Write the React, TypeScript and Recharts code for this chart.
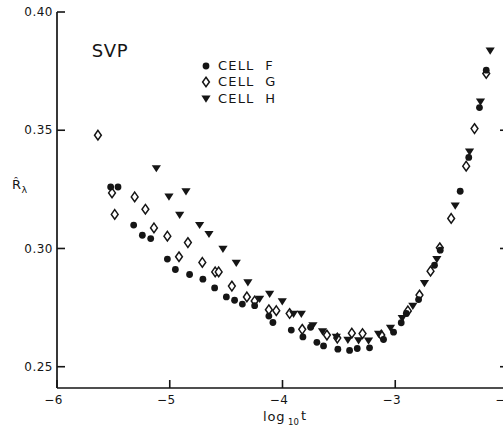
import React from 'react';
import { ScatterChart, Scatter, XAxis, YAxis, Legend } from 'recharts';

const INK = '#151515';
const FONT = '"DejaVu Sans", sans-serif';

// log10 t , R-hat lambda
const cellF: [number, number][] = [
  [-5.524, 0.326], [-5.459, 0.326], [-5.32, 0.3099], [-5.243, 0.3056], [-5.169, 0.3042],
  [-5.021, 0.2955], [-4.95, 0.2911], [-4.824, 0.289], [-4.706, 0.287], [-4.602, 0.2833],
  [-4.498, 0.2795], [-4.425, 0.2781], [-4.356, 0.2765], [-4.247, 0.2758], [-4.121, 0.2714],
  [-4.085, 0.2687], [-3.922, 0.2655], [-3.819, 0.2626], [-3.751, 0.2667], [-3.695, 0.2603],
  [-3.636, 0.2588], [-3.509, 0.2574], [-3.405, 0.2569], [-3.337, 0.2577], [-3.228, 0.258],
  [-3.104, 0.2615], [-3.015, 0.2646], [-2.947, 0.2686], [-2.902, 0.2725], [-2.793, 0.2784],
  [-2.652, 0.2929], [-2.601, 0.2993], [-2.424, 0.3242], [-2.348, 0.3385], [-2.253, 0.3596],
  [-2.193, 0.3754],
];

const cellG: [number, number][] = [
  [-5.637, 0.3479], [-5.512, 0.3235], [-5.488, 0.3144], [-5.311, 0.3218], [-5.216, 0.3166],
  [-5.14, 0.3087], [-5.021, 0.3052], [-4.918, 0.2965], [-4.839, 0.3025], [-4.711, 0.2941],
  [-4.597, 0.2901], [-4.566, 0.2901], [-4.449, 0.2841], [-4.316, 0.2795], [-4.247, 0.2778],
  [-4.121, 0.2741], [-4.055, 0.2737], [-3.937, 0.2725], [-3.825, 0.2658], [-3.606, 0.2634],
  [-3.514, 0.2621], [-3.385, 0.2642], [-3.29, 0.264], [-3.124, 0.2634], [-2.888, 0.2736],
  [-2.785, 0.2803], [-2.687, 0.2904], [-2.605, 0.3003], [-2.504, 0.3127], [-2.371, 0.3348],
  [-2.297, 0.3507], [-2.193, 0.374],
];

const cellH: [number, number][] = [
  [-5.119, 0.3338], [-5.007, 0.3218], [-4.856, 0.324], [-4.912, 0.3141], [-4.735, 0.3098],
  [-4.652, 0.306], [-4.528, 0.2997], [-4.41, 0.2938], [-4.307, 0.2855], [-4.203, 0.2786],
  [-4.114, 0.2807], [-4.002, 0.2775], [-3.902, 0.2722], [-3.833, 0.2722], [-3.73, 0.2674],
  [-3.645, 0.2648], [-3.523, 0.2625], [-3.42, 0.2612], [-3.325, 0.261], [-3.237, 0.2609],
  [-3.148, 0.2638], [-3.042, 0.2663], [-2.938, 0.2704], [-2.844, 0.2756], [-2.741, 0.2852],
  [-2.631, 0.2954], [-2.468, 0.318], [-2.341, 0.3408], [-2.244, 0.362], [-2.158, 0.3835],
];

const xTicks = [-6, -5, -4, -3, -2];
const yTicks = [0.25, 0.3, 0.35, 0.4];
const seriesNames = ['CELL  F', 'CELL  G', 'CELL  H'];
const annotation = 'SVP';

const toPoints = (arr: [number, number][]) => arr.map(([x, y]) => ({ x, y }));

const Circle = ({ cx, cy }: any) => <circle cx={cx} cy={cy} r={3.4} fill={INK} />;
const Diamond = ({ cx, cy }: any) => (
  <path
    d={`M${cx},${cy - 4.8} L${cx + 3.4},${cy} L${cx},${cy + 4.8} L${cx - 3.4},${cy} Z`}
    fill="#fff"
    stroke={INK}
    strokeWidth={1.5}
  />
);
const Triangle = ({ cx, cy }: any) => (
  <path
    d={`M${cx - 4.6},${cy - 3.4} L${cx + 4.6},${cy - 3.4} L${cx},${cy + 3.8} Z`}
    fill={INK}
  />
);
const shapes = [Circle, Diamond, Triangle];

const fmtMinus = (v: number) => (v < 0 ? `\u2212${Math.abs(v)}` : `${v}`);

const BottomTick = ({ x, y, payload }: any) => (
  <g>
    <line x1={x} x2={x} y1={y} y2={y - 8} stroke={INK} strokeWidth={1.6} />
    <text x={x - 3.5} y={y + 11.5} dy="0.35em" textAnchor="middle" fontFamily={FONT} fontSize={12} letterSpacing={0.4} fill={INK}>
      {fmtMinus(payload.value)}
    </text>
  </g>
);
const TopTick = ({ x, y }: any) => (
  <line x1={x} x2={x} y1={y} y2={y + 7} stroke={INK} strokeWidth={1.6} />
);
const LeftTick = ({ x, y, payload }: any) => (
  <g>
    <line x1={x} x2={x + 8} y1={y} y2={y} stroke={INK} strokeWidth={1.6} />
    <text x={x - 4} y={y} dy="0.35em" textAnchor="end" fontFamily={FONT} fontSize={12} letterSpacing={0.5} fill={INK}>
      {payload.value.toFixed(2)}
    </text>
  </g>
);
const RightTick = ({ x, y }: any) => (
  <line x1={x} x2={x - 8} y1={y} y2={y} stroke={INK} strokeWidth={1.6} />
);

const LegendContent = () => (
  <div style={{ fontFamily: FONT, fontSize: 13, color: INK, letterSpacing: 1.2 }}>
    {seriesNames.map((name, i) => {
      const S = shapes[i];
      return (
        <div key={name} style={{ display: 'flex', alignItems: 'center', height: 16.7 }}>
          <svg width={12} height={14} style={{ display: 'block' }}>
            <S cx={6} cy={7} />
          </svg>
          <span style={{ marginLeft: 6.3, whiteSpace: 'pre', lineHeight: '14px' }}>{name}</span>
        </div>
      );
    })}
  </div>
);

export default function App() {
  const axisLine = { stroke: INK, strokeWidth: 1.7 };
  return (
    <div style={{ position: 'absolute', left: 0, top: 0, width: 503, height: 427, overflow: 'hidden', background: '#fff' }}>
      <ScatterChart width={518} height={427} margin={{ top: 12, right: 0, bottom: 0, left: 0 }}>
        <XAxis
          dataKey="x"
          type="number"
          domain={[-6, -2]}
          ticks={xTicks}
          allowDataOverflow
          height={39}
          tickSize={0}
          tickMargin={0}
          tickLine={false}
          axisLine={axisLine}
          tick={<BottomTick />}
          interval={0}
        />
        <XAxis
          xAxisId="top"
          orientation="top"
          dataKey="x"
          type="number"
          domain={[-6, -2]}
          ticks={[-5, -4, -3]}
          allowDataOverflow
          height={0}
          tickSize={0}
          tickMargin={0}
          tickLine={false}
          axisLine={axisLine}
          tick={<TopTick />}
          interval={0}
        />
        <YAxis
          dataKey="y"
          type="number"
          domain={[0.241, 0.4]}
          ticks={yTicks}
          allowDataOverflow
          width={57}
          tickSize={0}
          tickMargin={0}
          tickLine={false}
          axisLine={axisLine}
          tick={<LeftTick />}
          interval={0}
        />
        <YAxis
          yAxisId="right"
          orientation="right"
          dataKey="y"
          type="number"
          domain={[0.241, 0.4]}
          ticks={[0.25, 0.3, 0.35]}
          allowDataOverflow
          width={10}
          tickSize={0}
          tickMargin={0}
          tickLine={false}
          axisLine={axisLine}
          tick={<RightTick />}
          interval={0}
        />
        <Legend
          layout="vertical"
          align="center"
          verticalAlign="middle"
          content={<LegendContent />}
          wrapperStyle={{ position: 'absolute', left: 199.7, top: 57.3, width: 'auto', height: 'auto' }}
        />
        <Scatter name={seriesNames[1]} data={toPoints(cellG)} shape={<Diamond />} isAnimationActive={false} />
        <Scatter name={seriesNames[0]} data={toPoints(cellF)} shape={<Circle />} isAnimationActive={false} />
        <Scatter name={seriesNames[2]} data={toPoints(cellH)} shape={<Triangle />} isAnimationActive={false} />
      </ScatterChart>
      <svg width={503} height={427} style={{ position: 'absolute', left: 0, top: 0, pointerEvents: 'none' }}>
        <text x={91.7} y={56.7} fontFamily={FONT} fontSize={18} letterSpacing={0.6} fill={INK}>{annotation}</text>
        <text x={12} y={188.5} fontFamily={FONT} fontSize={13} fill={INK}>{'R\u0302'}</text>
        <text x={21.5} y={193} fontFamily={FONT} fontSize={9.5} fill={INK}>{'\u03bb'}</text>
        <text y={421} fontFamily={FONT} fill={INK}>
          <tspan x={263} fontSize={13} letterSpacing={0.8}>log</tspan>
          <tspan x={288} y={425} fontSize={8.5}>10</tspan>
          <tspan x={301} y={420} fontSize={13}>t</tspan>
        </text>
      </svg>
    </div>
  );
}
